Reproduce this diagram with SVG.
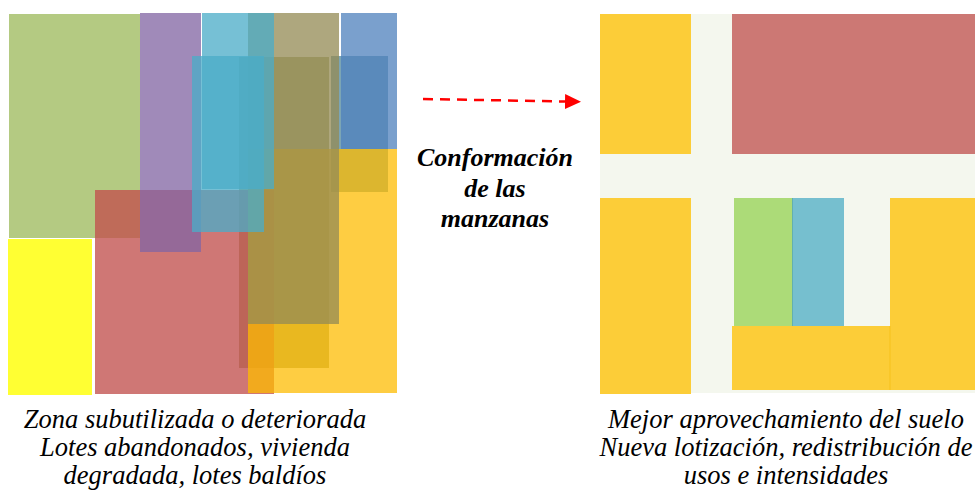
<svg xmlns="http://www.w3.org/2000/svg" width="975" height="493" viewBox="0 0 975 493">
<style>
.lbl{font-family:"Liberation Serif","Times New Roman",serif;font-style:italic;font-size:26.5px;fill:#000;text-anchor:middle}
.b{font-weight:bold;font-size:26px}
.t{opacity:0.76}
.dash{stroke:#ff0000;stroke-width:2.5;stroke-dasharray:10 7;fill:none}
</style>
<defs>
<marker id="ah" markerUnits="userSpaceOnUse" markerWidth="17" markerHeight="16" refX="0" refY="7.5" orient="auto">
<path d="M0,0 L16,7.5 L0,15 Z" fill="#ff0000"/>
</marker>
</defs>
<rect width="975" height="493" fill="#ffffff"/>
<g id="left-panel">
<g id="lot-green"><rect x="9" y="14" width="131" height="224" fill="#b4ca82"/></g>
<g id="lot-bright-yellow"><rect x="8" y="239" width="84" height="156" fill="#ffff33"/></g>
<g id="lot-olive-grey"><rect x="239" y="57" width="90" height="311" fill="#adaf7d"/></g>
<g id="lot-grey-blue"><rect x="331" y="56" width="57" height="136" fill="#7ba5b5"/></g>
<g id="lot-red"><rect x="95" y="190" width="179" height="204" fill="#c1514e" opacity="0.78"/></g>
<g id="lot-purple"><rect x="140" y="13" width="61" height="239" fill="#8265a3" class="t"/></g>
<g id="lot-yellow"><rect x="248" y="149" width="149" height="244" fill="#febc00" opacity="0.74"/></g>
<g id="lot-blue"><rect x="341" y="13" width="56" height="136" fill="#5082bd" class="t"/></g>
<g id="lot-khaki"><rect x="248" y="13" width="91" height="311" fill="#948b55" class="t"/></g>
<g id="lot-cyan-top"><rect x="202" y="13" width="72" height="176" fill="#4bacc8" class="t"/></g>
<g id="lot-cyan-big"><rect x="192" y="56" width="72" height="176" fill="#4bacc8" class="t"/></g>
</g>
<g id="right-panel">
<g id="streets"><rect x="600" y="14" width="375" height="379" fill="#f4f7ee"/></g>
<g id="block-yellow-tl"><rect x="600" y="14" width="91" height="140" fill="#fccd38"/></g>
<g id="block-red"><rect x="732" y="14" width="243" height="140" fill="#cc7874"/></g>
<g id="block-yellow-bl"><rect x="600" y="198" width="91" height="196" fill="#fccd38"/></g>
<g id="block-green"><rect x="734" y="198" width="58" height="129" fill="#acdb78"/></g>
<g id="block-cyan"><rect x="792" y="198" width="52" height="129" fill="#76bfcf"/><rect x="792" y="198" width="1" height="129" fill="#62b0b0"/></g>
<g id="block-yellow-right"><rect x="890" y="198" width="85" height="192" fill="#fccd38"/></g>
<g id="block-yellow-bottom"><rect x="732" y="326" width="158" height="64" fill="#fccd38"/><rect x="889.5" y="326" width="1" height="64" fill="#f5c21a"/></g>
</g>
<g id="connectors">
<line class="dash" x1="423" y1="99" x2="565" y2="101.5" marker-end="url(#ah)"/>
</g>
<g id="labels">
<text class="lbl b" x="495" y="166">Conformación</text>
<text class="lbl b" x="495" y="197">de las</text>
<text class="lbl b" x="495" y="227">manzanas</text>
<text class="lbl" x="195" y="428">Zona subutilizada o deteriorada</text>
<text class="lbl" x="195" y="456">Lotes abandonados, vivienda</text>
<text class="lbl" x="195" y="484">degradada, lotes baldíos</text>
<text class="lbl" x="786" y="428">Mejor aprovechamiento del suelo</text>
<text class="lbl" x="786" y="456">Nueva lotización, redistribución de</text>
<text class="lbl" x="786" y="484">usos e intensidades</text>
</g>
</svg>
